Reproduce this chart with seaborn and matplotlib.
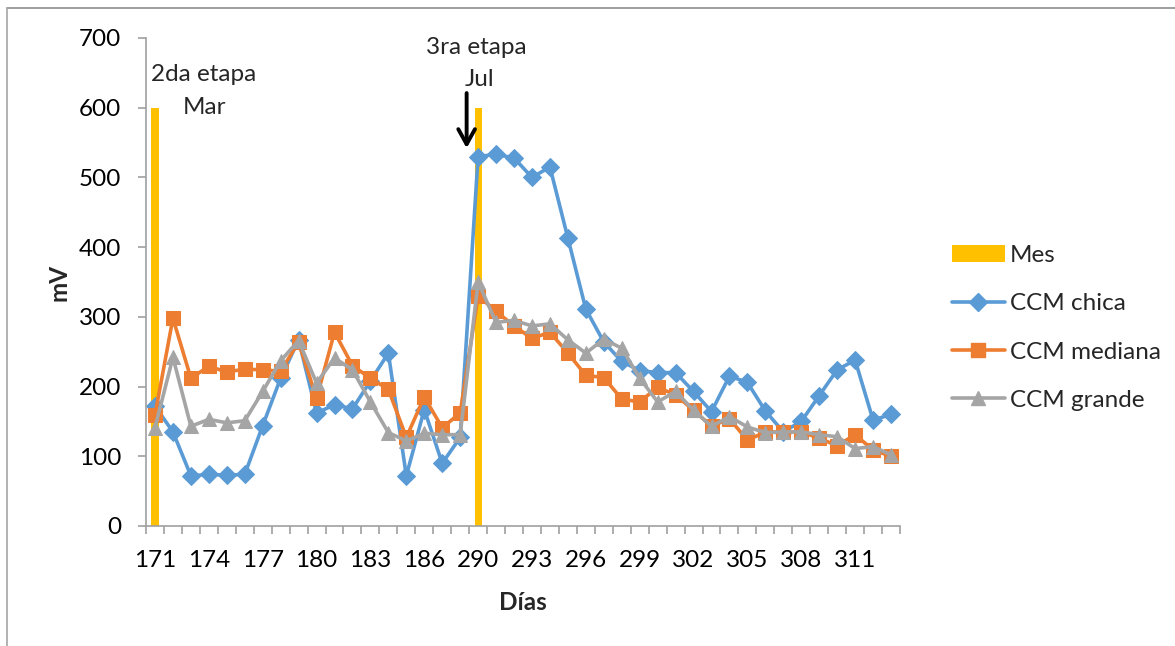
import numpy as np
import pandas as pd
import matplotlib
matplotlib.use("Agg")
import matplotlib.pyplot as plt
from matplotlib.lines import Line2D
from matplotlib.patches import Patch
import seaborn as sns

# ---------------- data ----------------
dias = [str(d) for d in list(range(171, 189)) + list(range(290, 314))]
mes = [600] + [0] * 17 + [600] + [0] * 23
ccm_chica = [172, 135, 72, 74, 73, 74, 144, 212, 267, 162, 174, 168, 208, 248, 72, 167, 90, 127,
             530, 533, 528, 500, 515, 413, 311, 264, 236, 223, 220, 220, 193, 164, 215, 206, 165,
             135, 150, 187, 224, 238, 152, 160]
ccm_mediana = [159, 298, 212, 229, 221, 225, 224, 222, 264, 183, 278, 230, 212, 196, 127, 185, 141, 162,
               330, 308, 287, 269, 278, 248, 216, 213, 182, 178, 199, 188, 166, 143, 154, 123, 135,
               135, 135, 126, 115, 131, 109, 100]
ccm_grande = [141, 242, 143, 153, 148, 151, 193, 237, 266, 205, 241, 224, 178, 134, 122, 133, 131, 131,
              350, 292, 295, 287, 290, 267, 248, 268, 255, 212, 178, 193, 166, 143, 157, 142, 134,
              135, 135, 131, 128, 111, 114, 102]
yticks = [0, 100, 200, 300, 400, 500, 600, 700]

# ---------------- style ----------------
sns.set_theme(style="white")
plt.rcParams['font.family'] = ['Lato', 'DejaVu Sans']
FS = 17.5

C_BLUE = "#5B9BD5"
C_ORANGE = "#ED7D31"
C_GRAY = "#A5A5A5"
C_YELLOW = "#FFC000"
AXC = "#A0A0A0"

fig = plt.figure(figsize=(11.75, 6.46), dpi=100)
ax = fig.add_axes([146 / 1175, 1 - 526 / 646, (900 - 146) / 1175, (526 - 38) / 646])

pos = np.arange(len(dias))
df = pd.DataFrame({"dia": dias, "pos": pos, "mes": mes,
                   "chica": ccm_chica, "mediana": ccm_mediana, "grande": ccm_grande})

sns.barplot(data=df, x="dia", y="mes", order=dias, color=C_YELLOW, width=0.4,
            saturation=1, linewidth=0, ax=ax)

sns.lineplot(data=df, x="pos", y="chica", color=C_BLUE, linewidth=2.6, marker="D",
             markersize=9, markeredgecolor=C_BLUE, ax=ax)
sns.lineplot(data=df, x="pos", y="mediana", color=C_ORANGE, linewidth=2.6, marker="s",
             markersize=9.5, markeredgecolor=C_ORANGE, ax=ax)
sns.lineplot(data=df, x="pos", y="grande", color=C_GRAY, linewidth=2.6, marker="^",
             markersize=10, markeredgecolor=C_GRAY, ax=ax)

ax.set_xlim(-0.5, len(dias) - 0.5)
ax.set_ylim(0, 700)
ax.set_yticks(yticks)
ax.set_yticklabels([str(v) for v in yticks], fontsize=FS, color="black")
ax.set_xticks(pos[::3])
ax.set_xticklabels(dias[::3], fontsize=FS, color="black")
ax.set_xticks(np.arange(-0.5, len(dias), 1.0), minor=True)
ax.tick_params(axis="x", which="major", length=0, pad=17)
ax.tick_params(axis="x", which="minor", length=6, width=1.2, color=AXC, direction="out")
ax.tick_params(axis="y", which="major", length=6, width=1.2, color=AXC, direction="out", pad=12,
               left=True)
ax.tick_params(axis="x", which="minor", bottom=True)

for s in ["top", "right"]:
    ax.spines[s].set_visible(False)
for s in ["left", "bottom"]:
    ax.spines[s].set_color(AXC)
    ax.spines[s].set_linewidth(1.2)
ax.grid(False)

ax.set_xlabel("Días", fontsize=FS, fontweight="bold", labelpad=15)
ax.set_ylabel("mV", fontsize=FS, fontweight="bold", labelpad=6)

# annotations
ax.text(2.72, 647, "2da etapa", fontsize=FS, ha="center", va="center")
ax.text(2.75, 601, "Mar", fontsize=FS, ha="center", va="center")
ax.text(17.9, 686, "3ra etapa", fontsize=FS, ha="center", va="center", clip_on=False)
ax.text(18.05, 640, "Jul", fontsize=FS, ha="center", va="center")
ax.annotate("", xy=(17.36, 538), xytext=(17.36, 625),
            arrowprops=dict(arrowstyle="->,head_length=0.9,head_width=0.5", color="black", lw=2.8))

# legend
handles = [Patch(facecolor=C_YELLOW, edgecolor="none", label="Mes"),
           Line2D([0], [0], color=C_BLUE, lw=2.6, marker="D", markersize=9, label="CCM chica"),
           Line2D([0], [0], color=C_ORANGE, lw=2.6, marker="s", markersize=9.5, label="CCM mediana"),
           Line2D([0], [0], color=C_GRAY, lw=2.6, marker="^", markersize=10, label="CCM grande")]
fig.legend(handles=handles, loc="center left", bbox_to_anchor=(942 / 1175, 1 - 328 / 646),
           frameon=False, fontsize=FS, handlelength=2.2, handletextpad=0.2, labelspacing=1.12,
           borderaxespad=0)

# outer frame (top and left edges visible)
fig.add_artist(Line2D([7 / 1175, 1.0], [1 - 8 / 646, 1 - 8 / 646], transform=fig.transFigure,
                      color="#8C8C8C", lw=1.2))
fig.add_artist(Line2D([7 / 1175, 7 / 1175], [0, 1 - 8 / 646], transform=fig.transFigure,
                      color="#A6A6A6", lw=1.2))

fig.savefig("out.png", dpi=100)
